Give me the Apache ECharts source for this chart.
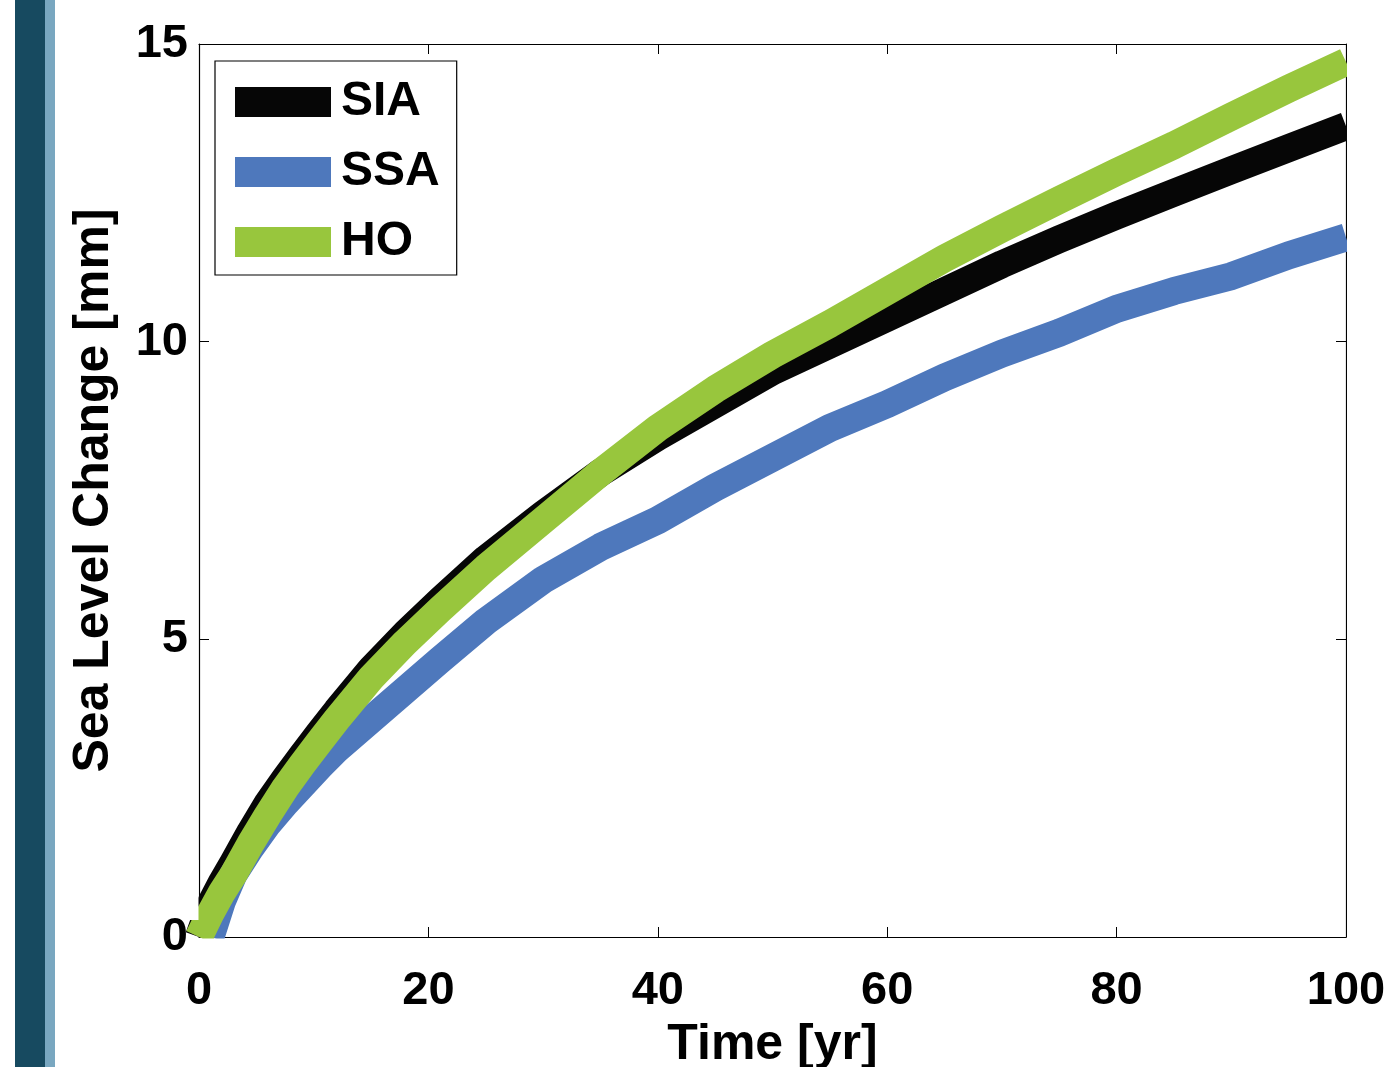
<!DOCTYPE html>
<html>
<head>
<meta charset="utf-8">
<title>Sea Level Change</title>
<script src="https://cdn.jsdelivr.net/npm/echarts@6/dist/echarts.min.js"></script>
<style>
  html, body { margin: 0; padding: 0; background: #fff; }
  #main { width: 1385px; height: 1067px; }
</style>
</head>
<body>
<div id="main"></div>
<script>
// time [yr]
var years = [0, 1, 2, 3, 4.5, 6, 7.5, 9, 10.5, 12, 15, 18, 21, 25, 30, 35, 40, 45, 50, 55, 60, 65, 70, 75, 80, 85, 90, 95, 100];
// sea level change [mm]
var sia = [0, 0.55, 0.92, 1.25, 1.77, 2.25, 2.66, 3.05, 3.43, 3.8, 4.5, 5.1, 5.65, 6.35, 7.1, 7.8, 8.4, 8.95, 9.5, 9.95, 10.4, 10.85, 11.3, 11.72, 12.12, 12.5, 12.88, 13.25, 13.62];
var ssa = [null, 0, 0.6, 1.05, 1.5, 1.9, 2.24, 2.55, 2.86, 3.15, 3.65, 4.15, 4.65, 5.3, 6.0, 6.55, 7.0, 7.55, 8.05, 8.55, 8.95, 9.4, 9.8, 10.15, 10.55, 10.85, 11.1, 11.45, 11.75];
var ho  = [0, 0.4, 0.75, 1.05, 1.57, 2.05, 2.5, 2.9, 3.28, 3.65, 4.35, 4.95, 5.5, 6.2, 7.0, 7.8, 8.55, 9.2, 9.78, 10.3, 10.85, 11.4, 11.9, 12.38, 12.85, 13.3, 13.78, 14.25, 14.7];
var seriesNames = ['SIA', 'SSA', 'HO'];

var colors = { SIA: '#060606', SSA: '#4e78bc', HO: '#98c63d' };
var FONT = 'Liberation Sans';

function pairs(vals) {
	var out = [];
	for (var i = 0; i < years.length; i++) {
		out.push([years[i], vals[i]]);
	}
	return out;
}

function lineSeries(name, vals) {
	return {
		name: name,
		type: 'line',
		data: pairs(vals),
		showSymbol: false,
		smooth: false,
		itemStyle: { color: colors[name] },
		lineStyle: { color: colors[name], width: 28, join: 'round' }
	};
}

var myChart = echarts.init(document.getElementById('main'));

var tickStyle = { show: true, inside: true, length: 10, lineStyle: { color: '#000', width: 1 } };
var lineAx = { show: true, onZero: false, lineStyle: { color: '#000', width: 1.2 } };
var labelFont = { fontFamily: FONT, fontWeight: 'bold', fontSize: 47, color: '#000' };
var nameFont = { fontFamily: FONT, fontWeight: 'bold', fontSize: 50, color: '#000' };

var option = {
	animation: false,
	backgroundColor: '#fff',
	graphic: [
		{ type: 'rect', left: 15, top: 0, shape: { width: 30, height: 1067 }, style: { fill: '#174a60' }, silent: true },
		{ type: 'rect', left: 45, top: 0, shape: { width: 10, height: 1067 }, style: { fill: '#79a7c0' }, silent: true },
		// trim the thick lines at the plot box like the original
		{ type: 'rect', z: 10, left: 1347, top: 20, shape: { width: 38, height: 930 }, style: { fill: '#fff' }, silent: true },
		{ type: 'rect', z: 10, left: 200, top: 938.5, shape: { width: 1160, height: 16 }, style: { fill: '#fff' }, silent: true },
		{ type: 'rect', z: 10, left: 190, top: 860, shape: { width: 8.5, height: 60 }, style: { fill: '#fff' }, silent: true }
	],
	grid: {
		left: 199,
		right: 39,
		top: 44,
		bottom: 130,
		outerBoundsMode: 'none'
	},
	legend: {
		orient: 'vertical',
		left: 215,
		top: 61,
		padding: [17, 17, 9, 20],
		backgroundColor: '#fff',
		borderColor: '#000',
		borderWidth: 1.2,
		itemWidth: 96,
		itemHeight: 30,
		itemGap: 22,
		icon: 'rect',
		z: 12,
		data: seriesNames,
		textStyle: { fontFamily: FONT, fontWeight: 'bold', fontSize: 48, color: '#000', padding: [0, 0, 0, 5] }
	},
	xAxis: [{
		type: 'value',
		min: 0,
		max: 100,
		interval: 20,
		name: 'Time [yr]',
		nameLocation: 'middle',
		nameGap: 79,
		nameTextStyle: nameFont,
		axisLine: lineAx,
		axisTick: tickStyle,
		splitLine: { show: false },
		axisLabel: Object.assign({ margin: 31, showMinLabel: true, showMaxLabel: true }, labelFont)
	}, {
		type: 'value',
		position: 'top',
		min: 0,
		max: 100,
		interval: 20,
		axisLine: lineAx,
		axisTick: tickStyle,
		splitLine: { show: false },
		axisLabel: { show: false }
	}],
	yAxis: [{
		type: 'value',
		min: 0,
		max: 15,
		interval: 5,
		name: 'Sea Level Change [mm]',
		nameLocation: 'middle',
		nameGap: 80,
		nameTextStyle: nameFont,
		axisLine: lineAx,
		axisTick: tickStyle,
		splitLine: { show: false },
		axisLabel: Object.assign({ margin: 11, padding: [12, 0, 0, 0], showMinLabel: true, showMaxLabel: true }, labelFont)
	}, {
		type: 'value',
		position: 'right',
		min: 0,
		max: 15,
		interval: 5,
		axisLine: lineAx,
		axisTick: tickStyle,
		splitLine: { show: false },
		axisLabel: { show: false }
	}],
	series: [
		lineSeries('SIA', sia),
		lineSeries('SSA', ssa),
		lineSeries('HO', ho)
	]
};
myChart.setOption(option);
</script>
</body>
</html>
